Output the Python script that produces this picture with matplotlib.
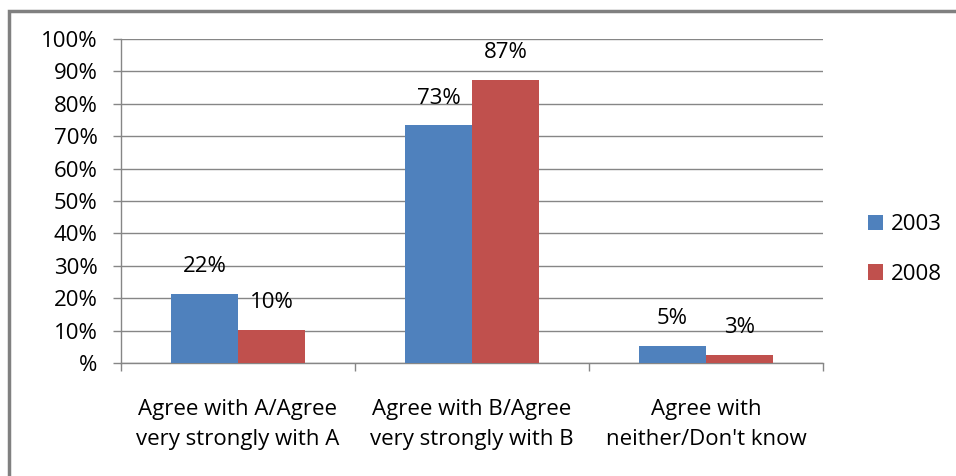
import matplotlib
matplotlib.use("Agg")
import matplotlib.pyplot as plt
from matplotlib.patches import Rectangle
import numpy as np

categories = ["Agree with A/Agree\nvery strongly with A",
              "Agree with B/Agree\nvery strongly with B",
              "Agree with\nneither/Don't know"]
series_names = ["2003", "2008"]
values_2003 = [21.4, 73.4, 5.3]
values_2008 = [10.2, 87.4, 2.5]
labels_2003 = ["22%", "73%", "5%"]
labels_2008 = ["10%", "87%", "3%"]
yticks = [0, 10, 20, 30, 40, 50, 60, 70, 80, 90, 100]
ytick_labels = ["%", "10%", "20%", "30%", "40%", "50%", "60%", "70%", "80%", "90%", "100%"]
colors = ["#4F81BD", "#C0504D"]

plt.rcParams['font.family'] = ['Open Sans', 'DejaVu Sans']
FS = 16
GRAY = "#868686"

fig = plt.figure(figsize=(9.56, 4.76), dpi=100)
ax = fig.add_axes([121/956, 1-363/476, (823-121)/956, (363-39)/476])

x = np.arange(len(categories))
w = 1/3.5
b1 = ax.bar(x - w/2, values_2003, width=w, color=colors[0], label=series_names[0], zorder=3)
b2 = ax.bar(x + w/2, values_2008, width=w, color=colors[1], label=series_names[1], zorder=3)

for bars, labs in ((b1, labels_2003), (b2, labels_2008)):
    for r, lab in zip(bars, labs):
        ax.annotate(lab, (r.get_x() + r.get_width()/2, r.get_height()),
                    xytext=(0, 19.5), textcoords="offset points",
                    ha="center", va="center", fontsize=FS, zorder=4)

ax.set_xlim(-0.5, len(categories) - 0.5)
ax.set_ylim(0, 100)
ax.set_yticks(yticks)
ax.set_yticklabels(ytick_labels)
ax.yaxis.grid(True, color=GRAY, linewidth=1, zorder=0)
ax.set_axisbelow(True)

ax.set_xticks(x)
ax.set_xticklabels(categories, fontsize=FS, linespacing=1.55)
ax.set_xticks(np.arange(len(categories) + 1) - 0.5, minor=True)
ax.tick_params(axis='x', which='major', length=0, pad=26)
ax.tick_params(axis='x', which='minor', length=6, color=GRAY, width=1)
ax.tick_params(axis='y', length=6, color=GRAY, width=1, pad=11, labelsize=FS)

for s in ("top", "right"):
    ax.spines[s].set_visible(False)
for s in ("left", "bottom"):
    ax.spines[s].set_color(GRAY)
    ax.spines[s].set_linewidth(1)

leg = ax.legend(loc="center left", bbox_to_anchor=(1.035, 0.35), frameon=False,
                fontsize=FS, handlelength=0.7, handleheight=0.7,
                labelspacing=1.3, handletextpad=0.35)

fig.patches.append(Rectangle((9/956, -0.1), 1.2, (1-11/476) + 0.1, transform=fig.transFigure,
                             fill=False, edgecolor="#808080", linewidth=2.5, figure=fig))

fig.savefig("out.png", dpi=100)
